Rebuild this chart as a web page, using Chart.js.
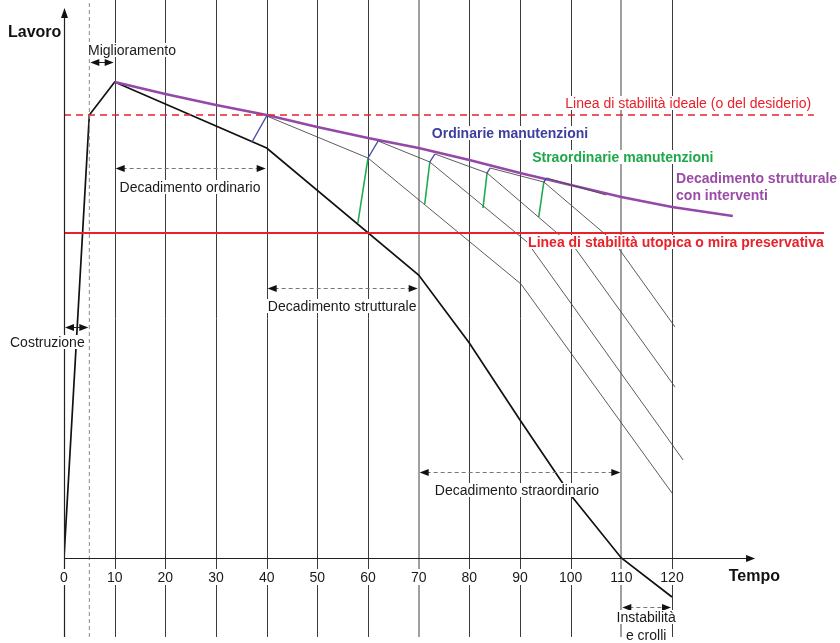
<!DOCTYPE html>
<html>
<head>
<meta charset="utf-8">
<script src="https://cdn.jsdelivr.net/npm/chart.js@4.4.1/dist/chart.umd.min.js"></script>
<style>
html,body{margin:0;padding:0;background:#fff;}
#wrap{width:840px;height:643px;}
</style>
</head>
<body>
<div id="wrap"><canvas id="c" width="840" height="643"></canvas></div>
<script>
// ---- data (x = Tempo, y = Lavoro, arbitrary units) ----
const xTicks = [0,10,20,30,40,50,60,70,80,90,100,110,120];

const mainX = [0, 5, 10, 40, 70, 80, 90, 100, 110, 120];
const mainY = [0, 88.6, 95.2, 82, 56.6, 43, 27.6, 12.6, 0, -7.8];

const purpleX = [10, 20, 30, 40, 50, 60, 70, 80, 90, 100, 110, 120, 132];
const purpleY = [95.2, 92.8, 90.6, 88.6, 86.2, 84, 82, 79.6, 77, 74.6, 72.2, 70.2, 68.4];

const idealLevel = 88.6;
const utopicLevel = 65;

const thin1X = [40, 60, 90.2, 120];     const thin1Y = [88.4, 80, 54.8, 13];
const thin2X = [62, 72.2, 91.4, 122.2]; const thin2Y = [83.4, 79.2, 63.2, 19.6];
const thin3X = [73.2, 83.5, 101, 120.6]; const thin3Y = [80.8, 77, 61.8, 34.2];
const thin4X = [84.1, 94.7, 108.5, 120.6]; const thin4Y = [78, 75.2, 63.3, 46.2];
const thin5X = [95.3, 107]; const thin5Y = [76, 72.6];

const ordX = [[37.1, 40], [60, 62], [72.2, 73.2], [83.5, 84.1], [94.7, 95.3]];
const ordY = [[83.2, 88.4], [80, 83.4], [79.2, 80.8], [77, 78], [75.2, 76]];

const strX = [[58, 60], [71.2, 72.2], [82.7, 83.5], [93.7, 94.7]];
const strY = [[67, 80], [70.8, 79.2], [70, 77], [68.2, 75.2]];

const RED = '#e8222a', PURPLE = '#9448a8', BLUE = '#4448aa', GREEN = '#1faa4d';

function pts(xs, ys){ return xs.map((x,i)=>({x:x, y:ys[i]})); }
function line(xs, ys, color, width, dash){
  return {data: pts(xs, ys), showLine:true, borderColor:color, borderWidth:width,
          borderDash: dash || [], pointRadius:0, fill:false, tension:0};
}

const datasets = [];
datasets.push(line([5,5],[-15.8,111.6],'#8a8a8a',1,[4,3]));
datasets.push(line([0,148],[idealLevel,idealLevel],RED,1.3,[7,5]));
datasets.push(line([0,150],[utopicLevel,utopicLevel],RED,2.2));
[[thin1X,thin1Y],[thin2X,thin2Y],[thin3X,thin3Y],[thin4X,thin4Y],[thin5X,thin5Y]].forEach(p=>{
  datasets.push(line(p[0],p[1],'#4a4a4a',0.9));
});
ordX.forEach((xs,i)=>datasets.push(line(xs, ordY[i], BLUE, 1.4)));
strX.forEach((xs,i)=>datasets.push(line(xs, strY[i], GREEN, 1.6)));
datasets.push(line(purpleX, purpleY, PURPLE, 2.6));
datasets.push(line(mainX, mainY, '#111', 1.7));

const FONT = '"Liberation Sans", Arial, sans-serif';
const texts = [
  {t:'Lavoro', x:-11.05, y:105.2, a:'left', c:'#111', b:true, s:16},
  {t:'Tempo', x:131.2, y:-3.6, a:'left', c:'#111', b:true, s:16},
  {t:'Miglioramento', x:4.74, y:101.6, a:'left', c:'#1a1a1a'},
  {t:'Costruzione', x:-10.66, y:43.2, a:'left', c:'#1a1a1a'},
  {t:'Decadimento ordinario', x:24.87, y:74.2, a:'center', c:'#1a1a1a'},
  {t:'Decadimento strutturale', x:54.9, y:50.4, a:'center', c:'#1a1a1a'},
  {t:'Decadimento straordinario', x:89.4, y:13.6, a:'center', c:'#1a1a1a'},
  {t:'Instabilità', x:114.9, y:-11.8, a:'center', c:'#1a1a1a'},
  {t:'e crolli', x:114.9, y:-15.4, a:'center', c:'#1a1a1a'},
  {t:'Linea di stabilità ideale (o del desiderio)', x:123.2, y:91, a:'center', c:RED},
  {t:'Ordinarie manutenzioni', x:72.6, y:85, a:'left', c:'#3c3f9e', b:true},
  {t:'Straordinarie manutenzioni', x:92.4, y:80.2, a:'left', c:'#1ea84b', b:true},
  {t:'Decadimento strutturale', x:120.8, y:76, a:'left', c:'#9a4ca6', b:true},
  {t:'con interventi', x:120.8, y:72.6, a:'left', c:'#9a4ca6', b:true},
  {t:'Linea di stabilità utopica o mira preservativa', x:91.6, y:63.2, a:'left', c:RED, b:true}
];
const arrows = [
  {x1:5, x2:10, y:99.2, dash:false},
  {x1:0, x2:5, y:46.2, dash:false},
  {x1:10, x2:40, y:78, dash:true},
  {x1:40, x2:70, y:54, dash:true},
  {x1:70, x2:110, y:17.2, dash:true},
  {x1:110, x2:120, y:-9.8, dash:true}
];

function head(ctx, x, y, dir){
  ctx.beginPath();
  ctx.moveTo(x, y);
  ctx.lineTo(x - dir*9, y - 3.5);
  ctx.lineTo(x - dir*9, y + 3.5);
  ctx.closePath();
  ctx.fill();
}

const gridPlugin = {
  id:'grid',
  beforeDatasetsDraw(chart){
    const ctx = chart.ctx, xs = chart.scales.x, ys = chart.scales.y;
    const top = ys.getPixelForValue(ys.max), bot = ys.getPixelForValue(ys.min);
    ctx.save();
    xTicks.forEach(v=>{
      if (v === 0) return;
      const gx = Math.round(xs.getPixelForValue(v));
      const gray = (v === 70 || v === 110);
      ctx.strokeStyle = gray ? '#a0a0a0' : '#3c3c3c';
      ctx.lineWidth = gray ? 2 : 1;
      ctx.beginPath();
      ctx.moveTo(gx + (gray?0:0.5), top);
      ctx.lineTo(gx + (gray?0:0.5), bot);
      ctx.stroke();
    });
    ctx.restore();
  },
  afterDatasetsDraw(chart){
    const ctx = chart.ctx, xs = chart.scales.x, ys = chart.scales.y;
    ctx.save();
    // axes
    const x0 = Math.round(xs.getPixelForValue(0)) + 0.5;
    const y0 = Math.round(ys.getPixelForValue(0)) + 0.5;
    const xEnd = xs.getPixelForValue(136.4);
    const yTop = ys.getPixelForValue(110);
    const yBot = ys.getPixelForValue(ys.min);
    ctx.strokeStyle = '#222'; ctx.fillStyle = '#111'; ctx.lineWidth = 1.2;
    ctx.beginPath(); ctx.moveTo(x0, y0); ctx.lineTo(xEnd - 8, y0); ctx.stroke();
    head(ctx, xEnd, y0, 1);
    ctx.beginPath(); ctx.moveTo(x0, yBot); ctx.lineTo(x0, yTop + 8); ctx.stroke();
    ctx.beginPath(); ctx.moveTo(x0, yTop); ctx.lineTo(x0 - 3.5, yTop + 10); ctx.lineTo(x0 + 3.5, yTop + 10); ctx.closePath(); ctx.fill();

    // arrows
    arrows.forEach(a=>{
      const p1 = xs.getPixelForValue(a.x1), p2 = xs.getPixelForValue(a.x2);
      const py = Math.round(ys.getPixelForValue(a.y)) + 0.5;
      ctx.strokeStyle = a.dash ? '#777' : '#222';
      ctx.lineWidth = 1;
      ctx.setLineDash(a.dash ? [4,3] : []);
      ctx.beginPath(); ctx.moveTo(p1 + 8, py); ctx.lineTo(p2 - 8, py); ctx.stroke();
      ctx.setLineDash([]);
      ctx.fillStyle = '#111';
      head(ctx, p1 + 1, py, -1);
      head(ctx, p2 - 1, py, 1);
    });

    // tick labels
    ctx.font = '14px ' + FONT;
    ctx.textBaseline = 'middle';
    ctx.textAlign = 'center';
    const ly = ys.getPixelForValue(-3.8);
    xTicks.forEach(v=>{
      const gx = xs.getPixelForValue(v);
      const s = String(v);
      const w = ctx.measureText(s).width;
      ctx.fillStyle = '#fff';
      ctx.fillRect(gx - w/2 - 2, ly - 8, w + 4, 16);
      ctx.fillStyle = '#1a1a1a';
      ctx.fillText(s, gx, ly + 1);
    });

    // annotations
    texts.forEach(o=>{
      ctx.font = (o.b ? 'bold ' : '') + (o.s || 14) + 'px ' + FONT;
      ctx.textAlign = o.a;
      const tx = xs.getPixelForValue(o.x), ty = ys.getPixelForValue(o.y);
      const w = ctx.measureText(o.t).width;
      let lx = o.a === 'center' ? tx - w/2 : tx;
      ctx.fillStyle = '#fff';
      ctx.fillRect(lx - 1, ty - 7, w + 2, 14);
      ctx.fillStyle = o.c;
      ctx.fillText(o.t, tx, ty + 1);
    });
    ctx.restore();
  }
};

new Chart(document.getElementById('c'), {
  type:'scatter',
  data:{datasets:datasets},
  options:{
    responsive:false,
    animation:false,
    layout:{padding:{left:64, right:16, top:0, bottom:6}},
    plugins:{legend:{display:false}, tooltip:{enabled:false}},
    scales:{
      x:{type:'linear', min:0, max:150, display:false},
      y:{type:'linear', min:-15.8, max:111.6, display:false}
    }
  },
  plugins:[gridPlugin]
});
</script>
</body>
</html>
